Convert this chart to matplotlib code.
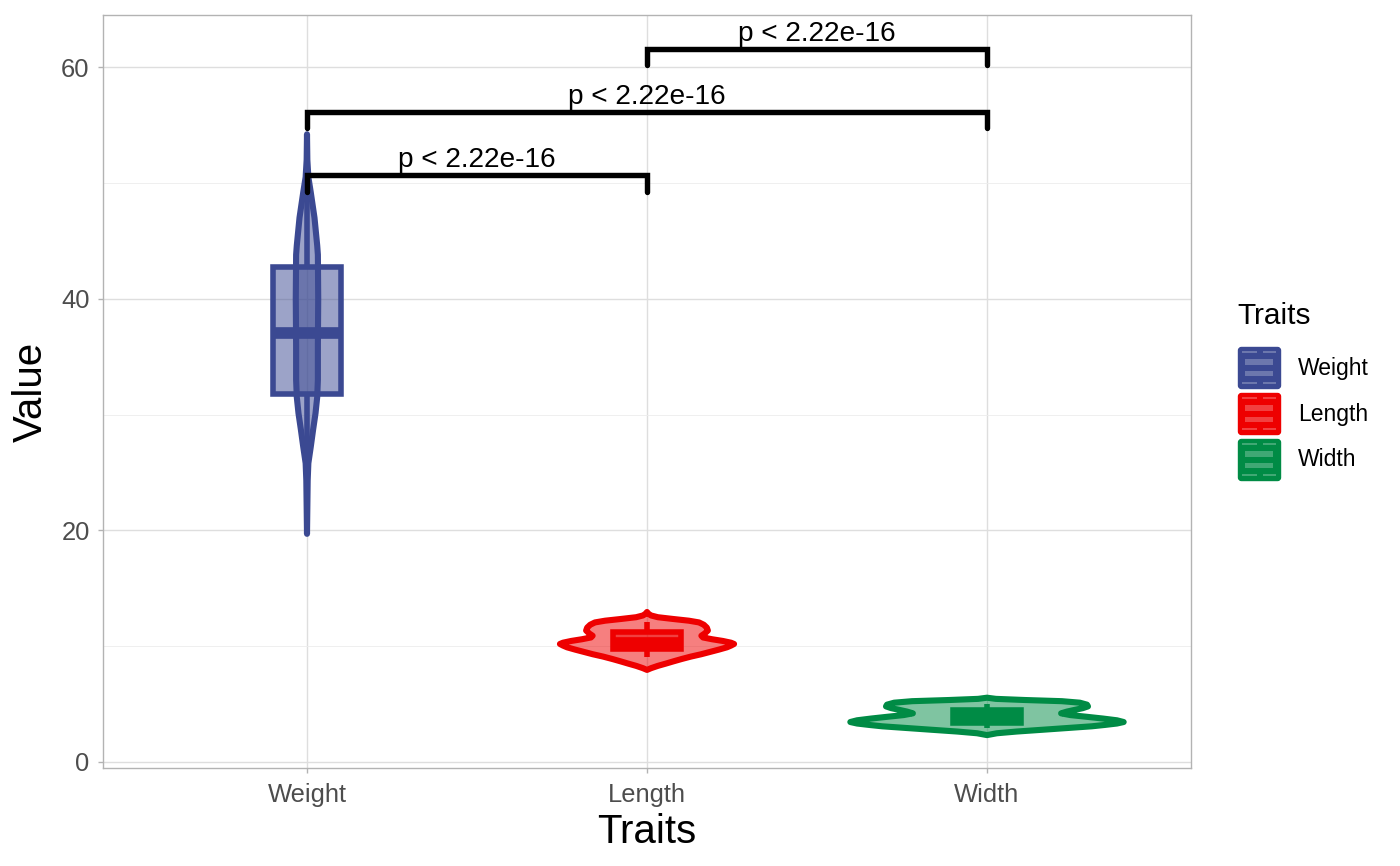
import matplotlib
matplotlib.use('Agg')
import matplotlib.pyplot as plt
from matplotlib.patches import Rectangle, FancyBboxPatch
from matplotlib.colors import to_rgb

plt.rcParams['font.family'] = ['Liberation Sans', 'DejaVu Sans']

# ---------------- data ----------------
traits = ['Weight', 'Length', 'Width']
colors = ['#3B4992', '#EE0000', '#008B45']

# violin outlines: value levels and half-widths (in category units)
weight_y = [54.2, 52.0, 50.5, 49.2, 47.0, 44.6, 43.8, 40.0, 36.0, 33.0, 31.5,
            30.1, 28.7, 27.2, 25.8, 24.3, 22.0, 19.7]
weight_hw = [0.0, 0.001, 0.004, 0.011, 0.022, 0.030, 0.032, 0.033, 0.032, 0.032,
             0.030, 0.025, 0.018, 0.011, 0.004, 0.002, 0.001, 0.0]

length_y = [12.95, 12.8, 12.65, 12.5, 12.35, 12.2, 12.05, 11.85, 11.6, 11.35,
            11.1, 10.9, 10.75, 10.6, 10.45, 10.3, 10.19, 10.05, 9.9, 9.7, 9.5,
            9.3, 9.1, 8.9, 8.7, 8.5, 8.3, 8.1, 7.95]
length_hw = [0.0, 0.004, 0.012, 0.032, 0.076, 0.123, 0.153, 0.167, 0.176, 0.179,
             0.170, 0.160, 0.165, 0.191, 0.223, 0.247, 0.256, 0.247, 0.235, 0.211,
             0.185, 0.159, 0.129, 0.103, 0.079, 0.056, 0.032, 0.012, 0.0]

width_y = [5.55, 5.45, 5.35, 5.25, 5.12, 4.95, 4.8, 4.65, 4.5, 4.35, 4.2, 4.05,
           3.9, 3.75, 3.6, 3.45, 3.32, 3.2, 3.08, 2.93, 2.78, 2.63, 2.48, 2.32]
width_hw = [0.0, 0.026, 0.112, 0.220, 0.273, 0.294, 0.297, 0.282, 0.258, 0.235,
            0.218, 0.245, 0.294, 0.341, 0.382, 0.402, 0.382, 0.347, 0.308, 0.235,
            0.162, 0.088, 0.029, 0.0]

# box plot statistics
box_q1 = [31.8, 9.74, 3.36]
box_med = [37.0, 10.26, 3.9]
box_q3 = [42.7, 11.2, 4.48]
whisk_lo = [19.7, 9.03, 2.9]
whisk_hi = [54.2, 12.1, 5.0]

# significance brackets: (group a, group b, bar level, tip level, label)
br_a = [1, 1, 2]
br_b = [2, 3, 3]
br_y = [50.68, 56.1, 61.55]
br_tip = [49.2, 54.7, 60.2]
br_label = ['p < 2.22e-16', 'p < 2.22e-16', 'p < 2.22e-16']

violin_y = [weight_y, length_y, width_y]
violin_hw = [weight_hw, length_hw, width_hw]

# ---------------- figure ----------------
W, H = 1400, 866
fig = plt.figure(figsize=(W / 100, H / 100), dpi=100)
ax = fig.add_axes([103 / W, 1 - 768 / H, (1191 - 103) / W, (768 - 15) / H])
ax.set_xlim(0.4, 3.6)
ax.set_ylim(-0.52, 64.5)

ax.set_xticks([1, 2, 3])
ax.set_xticklabels(traits)
ax.set_yticks([0, 20, 40, 60])
ax.set_yticks([10, 30, 50], minor=True)
ax.grid(which='major', color='#DEDEDE', lw=1.0, zorder=0)
ax.grid(which='minor', axis='y', color='#EDEDED', lw=0.6, zorder=0)
ax.set_axisbelow(True)
for s in ax.spines.values():
    s.set_color('#B3B3B3')
    s.set_linewidth(1.0)
ax.tick_params(which='major', length=3.6, width=1.0, color='#B3B3B3',
               labelsize=18.4, labelcolor='#4D4D4D')
ax.tick_params(axis='x', which='major', pad=7.5)
ax.tick_params(axis='y', which='major', pad=6)
ax.tick_params(which='minor', length=0)

LW = 4.4  # pt

for i in range(3):
    c = i + 1
    col = colors[i]
    rgb = to_rgb(col)
    ys = violin_y[i]
    hw = violin_hw[i]
    xs = [c + h for h in hw] + [c - h for h in hw[::-1]]
    yy = list(ys) + list(ys[::-1])
    ax.fill(xs, yy, facecolor=rgb + (0.5,), edgecolor=col, lw=LW,
            joinstyle='round', zorder=2)
    # box plot
    bw = 0.1
    ax.plot([c, c], [box_q3[i], whisk_hi[i]], color=col, lw=4.0,
            solid_capstyle='butt', zorder=3)
    ax.plot([c, c], [whisk_lo[i], box_q1[i]], color=col, lw=4.0,
            solid_capstyle='butt', zorder=3)
    ax.add_patch(Rectangle((c - bw, box_q1[i]), 2 * bw, box_q3[i] - box_q1[i],
                           facecolor=rgb + (0.5,), edgecolor=col, lw=4.0,
                           joinstyle='miter', zorder=3))
    ax.plot([c - bw, c + bw], [box_med[i], box_med[i]], color=col, lw=8.4,
            solid_capstyle='butt', zorder=3)

for a, b, y, t, lab in zip(br_a, br_b, br_y, br_tip, br_label):
    ax.plot([a, a, b, b], [t, y, y, t], color='black', lw=3.9,
            solid_capstyle='round', solid_joinstyle='miter', zorder=4)
    ax.text((a + b) / 2, y + 0.72, lab, ha='center', va='baseline',
            fontsize=20.2, color='black', zorder=5)

ax.set_xlabel('Traits', fontsize=29, color='black')
ax.xaxis.set_label_coords(0.5, -(843 - 768) / 753)
ax.xaxis.label.set_va('baseline')
ax.set_ylabel('Value', fontsize=29, color='black')
ax.yaxis.set_label_coords((31 - 103) / 1088, 0.5)
ax.yaxis.label.set_va('center')

# ---------------- legend ----------------
lg = fig.add_axes([0, 0, 1, 1], facecolor='none')
lg.set_xlim(0, W)
lg.set_ylim(H, 0)
lg.axis('off')
lg.text(1237, 316, 'Traits', fontsize=21.5, ha='left', va='center')
for i, name in enumerate(traits):
    top = 346 + 46 * i
    col = colors[i]
    rgb = to_rgb(col)
    light = tuple(0.75 * v + 0.25 for v in rgb)
    lg.add_patch(FancyBboxPatch((1238.5, top + 1.5), 42, 41,
                                boxstyle='round,pad=0,rounding_size=3',
                                facecolor=col, edgecolor=col, lw=1))
    # dashed light strokes (top / bottom)
    for yy in (top + 6.3, top + 37.3):
        lg.add_patch(Rectangle((1241.7, yy - 1), 15.3, 2, facecolor=light,
                               edgecolor='none'))
        lg.add_patch(Rectangle((1262.7, yy - 1), 13.3, 2, facecolor=light,
                               edgecolor='none'))
    # inner box halves
    lg.add_patch(Rectangle((1245, top + 13.3), 28.3, 5.7, facecolor=light,
                           edgecolor='none'))
    lg.add_patch(Rectangle((1245, top + 25), 28.3, 5.3, facecolor=light,
                           edgecolor='none'))
    lg.text(1298, top + 22, name, fontsize=16.5, ha='left', va='center')

fig.savefig('out.png', dpi=100)
